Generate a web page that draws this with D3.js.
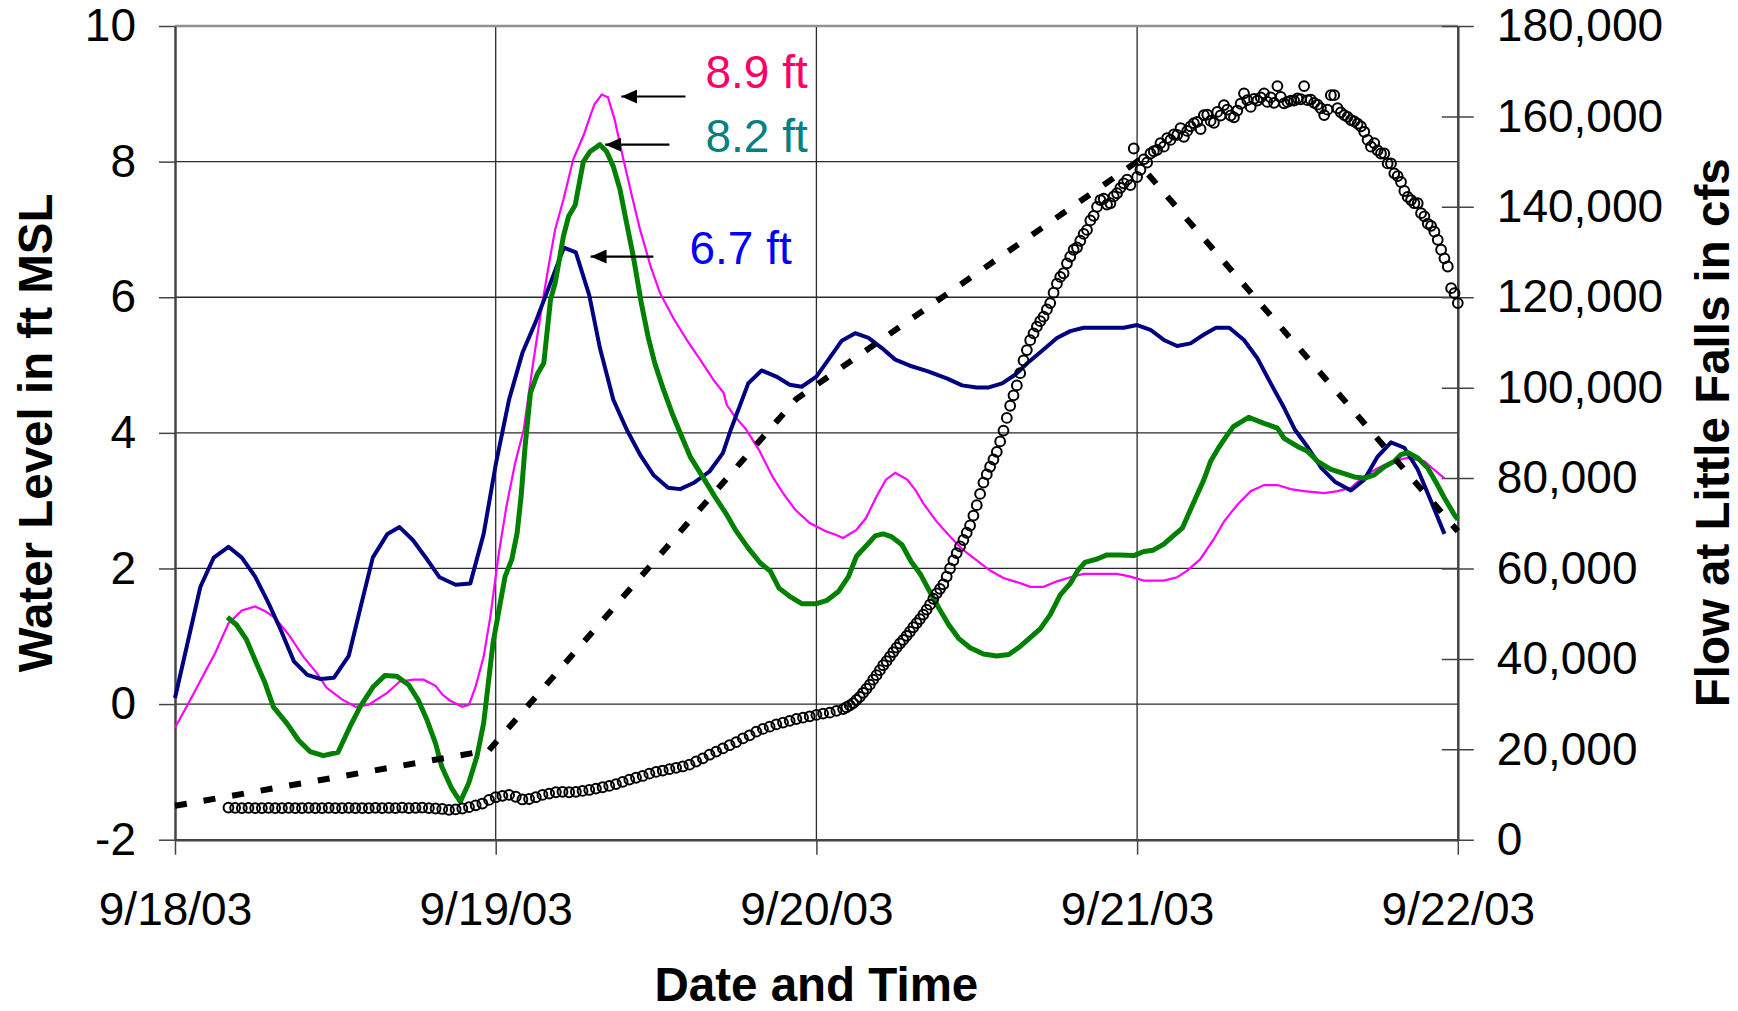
<!DOCTYPE html>
<html>
<head>
<meta charset="utf-8">
<script src="https://cdn.jsdelivr.net/npm/d3@7"></script>
<style>
  body { margin: 0; background: #fff; }
  svg { display: block; font-family: "Liberation Sans", Arial, sans-serif; }
</style>
</head>
<body>
<svg id="chart" width="1738" height="1011"></svg>
<script>
// all times are hours after 9/18/03 00:00

// water level (ft MSL), navy gauge
var navyLevel = [
  [0,0.09],[1.9,1.73],[2.9,2.16],[4,2.32],[5,2.16],[6,1.88],[7,1.49],[7.9,1.10],
  [8.9,0.63],[9.9,0.43],[10.9,0.37],[11.9,0.39],[13,0.71],[13.9,1.44],[14.8,2.16],
  [15.9,2.51],[16.8,2.61],[17.8,2.42],[18.8,2.15],[19.8,1.87],[21,1.76],[22.1,1.78],
  [23.1,2.51],[24,3.53],[25,4.49],[26,5.18],[27,5.64],[28,6.16],[29.1,6.73],[30,6.66],
  [31,6.03],[31.8,5.25],[32.8,4.49],[33.8,4.05],[34.8,3.68],[35.8,3.38],[36.9,3.19],
  [37.8,3.17],[38.8,3.26],[40,3.43],[41,3.70],[41.6,4.05],[42.9,4.73],[43.9,4.92],
  [45,4.83],[46,4.71],[46.9,4.68],[48,4.83],[48.9,5.08],[49.9,5.36],[50.9,5.47],
  [51.9,5.40],[52.9,5.25],[53.9,5.08],[55,4.99],[56.3,4.91],[57.8,4.80],[58.9,4.70],
  [60,4.67],[60.9,4.67],[61.9,4.73],[62.9,4.86],[63.8,5.03],[65,5.23],[66,5.40],
  [67,5.50],[68,5.55],[71,5.55],[72,5.59],[73,5.52],[74,5.37],[75,5.28],[76,5.32],
  [77,5.45],[77.9,5.55],[78.9,5.55],[80,5.37],[81,5.10],[82,4.73],[83,4.37],[83.8,4.05],
  [84.8,3.78],[85.8,3.48],[86.8,3.28],[88,3.15],[89,3.31],[90,3.65],[91,3.86],[92,3.78],
  [93,3.46],[94,2.99],[95,2.51]
];

// water level (ft MSL), magenta gauge
var magentaLevel = [
  [0,-0.35],[1,0.01],[2,0.38],[3,0.75],[4,1.19],[5,1.38],[6,1.44],[6.75,1.37],[7.5,1.27],
  [8.6,1.0],[9.6,0.70],[10.6,0.46],[11.35,0.24],[12.5,0.07],[13.5,-0.04],[14.5,-0.01],
  [15.85,0.16],[16.8,0.33],[17.8,0.36],[18.6,0.36],[19.5,0.27],[20,0.14],[20.6,0.05],
  [21.5,-0.04],[22,-0.01],[22.5,0.26],[23.1,0.70],[23.6,1.29],[24.2,2.18],[24.8,2.91],
  [25.45,3.55],[26.1,4.05],[26.8,5.03],[27.45,5.86],[27.95,6.45],[28.45,7.0],[29.07,7.44],
  [29.8,8.03],[30.6,8.40],[31.07,8.67],[31.4,8.85],[31.94,8.99],[32.4,8.95],[32.9,8.62],
  [33.56,8.03],[34.2,7.49],[34.8,7.0],[35.6,6.45],[36.3,6.06],[37.3,5.69],[38.3,5.37],
  [39.3,5.08],[40.3,4.78],[41.05,4.59],[41.3,4.41],[41.9,4.24],[42.7,4.06],[43.7,3.75],
  [44.7,3.36],[45.5,3.11],[46.4,2.87],[47.5,2.67],[48.7,2.55],[49.4,2.50],[50,2.45],
  [51,2.57],[51.7,2.74],[52.5,3.06],[53.2,3.31],[53.9,3.41],[54.8,3.31],[55.4,3.16],
  [56,2.96],[57,2.69],[58,2.47],[59,2.27],[60,2.12],[61,1.97],[62,1.86],[63.3,1.78],
  [64,1.73],[65,1.73],[66,1.81],[67,1.87],[68,1.92],[70.5,1.92],[71.5,1.88],[72.5,1.82],
  [74,1.82],[75,1.87],[75.7,1.96],[76.7,2.13],[77.7,2.42],[78.5,2.69],[79.5,2.94],
  [80.5,3.14],[81.5,3.23],[82.5,3.23],[83.5,3.17],[84.5,3.14],[86,3.11],[87,3.14],
  [88,3.19],[89,3.36],[90,3.48],[91,3.57],[92.2,3.63],[93.5,3.58],[94.2,3.46],[95,3.33]
];

// water level (ft MSL), green gauge
var greenLevel = [
  [3.92,1.28],[4.6,1.17],[5.35,0.95],[6.1,0.60],[6.74,0.31],[7.36,-0.04],[8.36,-0.28],
  [9.23,-0.53],[10.1,-0.70],[11.1,-0.76],[12.2,-0.71],[13.1,-0.33],[13.85,-0.04],
  [14.85,0.26],[15.7,0.42],[16.6,0.41],[17.5,0.28],[18.2,0.06],[18.85,-0.23],[19.5,-0.58],
  [19.96,-0.92],[20.7,-1.24],[21.35,-1.44],[21.97,-1.17],[22.6,-0.77],[23.1,-0.28],
  [23.45,0.31],[23.8,0.90],[24.2,1.34],[24.7,1.88],[25.2,2.13],[25.6,2.52],[25.9,3.06],
  [26.2,3.80],[26.6,4.59],[27.1,4.86],[27.6,5.03],[28.1,5.96],[28.45,6.21],[29.07,6.90],
  [29.45,7.19],[29.95,7.36],[30.3,7.73],[30.56,8.0],[31.07,8.15],[31.8,8.25],[32.3,8.15],
  [32.8,7.93],[33.3,7.59],[33.8,7.09],[34.3,6.60],[34.9,5.91],[35.4,5.42],[35.9,5.03],
  [36.55,4.64],[37.2,4.29],[37.7,4.05],[38.55,3.65],[39.4,3.38],[40.4,3.06],[41.3,2.79],
  [42.0,2.55],[42.9,2.30],[43.8,2.08],[44.55,1.96],[45.2,1.71],[46.0,1.59],[46.9,1.48],
  [48.0,1.48],[48.8,1.53],[49.65,1.66],[50.4,1.88],[51.0,2.18],[51.8,2.35],[52.4,2.48],
  [53.0,2.51],[53.6,2.47],[54.4,2.35],[55.1,2.10],[55.8,1.91],[56.4,1.69],[57.15,1.42],
  [57.9,1.17],[58.64,0.97],[59.5,0.83],[60.5,0.74],[61.5,0.71],[62.4,0.73],[63.25,0.85],
  [64.0,0.98],[64.75,1.11],[65.5,1.32],[66.25,1.61],[67.0,1.78],[67.6,1.98],[68.1,2.09],
  [69.0,2.14],[69.75,2.20],[70.7,2.20],[71.75,2.19],[72.5,2.25],[73.2,2.27],[74.0,2.36],
  [74.7,2.48],[75.4,2.60],[76.0,2.87],[76.5,3.09],[77.0,3.31],[77.5,3.58],[78.1,3.78],
  [78.75,3.97],[79.2,4.09],[80.35,4.23],[81.5,4.14],[82.5,4.07],[83.0,3.92],[84.0,3.80],
  [84.75,3.73],[85.5,3.58],[86.5,3.46],[87.5,3.40],[88.25,3.35],[89.0,3.33],[89.75,3.38],
  [90.5,3.50],[91.25,3.58],[91.75,3.68],[92.25,3.71],[93.0,3.63],[93.75,3.48],[94.4,3.26],
  [95.0,3.04],[95.75,2.79],[96,2.72]
];

// dashed line (ft MSL)
var dashedLevel = [[0,-1.5],[23.5,-0.68],[46.5,4.5],[72,8.0],[96,2.55]];

// flow at Little Falls (cfs), every 30 min from hour 4
var flowEarlyStart = 4, flowEarlyStep = 0.5;
var flowEarly = [
  7100,7050,7000,7050, 7000,7000,7050,7000, 7000,7050,7000,7000,
  7050,7000,7000,7050, 7000,7000,7050,7000, 7000,7000,7050,7000,
  7050,7000,7100,7000, 7050,7100,7000,6900, 6800,6600,6700,6900,
  7200,7600,8000,8800, 9400,9700,9900,9500, 8900,9000,9400,9900,
  10200,10500,10600,10500, 10600,10800,11000,11300, 11600,11900,12300,12800,
  13300,13700,14100,14600, 15000,15300,15600,15900, 16200,16600,17300,18000,
  18800,19500,20200,20900, 21600,22400,23100,23900, 24500,25000,25500,25900,
  26300,26700,27000,27300, 27600,27900,28100,28500
];
// flow at Little Falls (cfs), every 15 min from hour 50
var flowLateStart = 50, flowLateStep = 0.25;
var flowLate = [
  28900,29300,29700,30200,
  30900,31600,32500,33400,
  34300,35400,36400,37500,
  38600,39500,40500,41500,
  42500,43400,44200,45100,
  46000,47000,47900,48800,
  49800,50900,52000,53300,
  54500,55500,56500,58200,
  60000,61800,63400,64900,
  66300,67900,69500,71700,
  74000,76500,79000,80800,
  82500,84100,85800,88100,
  90500,93300,96000,98300,
  100500,103200,106000,108300,
  110500,112000,113500,114700,
  115700,117300,118700,121000,
  123000,124500,125300,127500,
  129000,130500,131000,132500,
  134000,134900,137000,138000,
  140000,141500,141800,140500,
  140800,142300,143000,144200,
  145200,146000,144800,152900,
  146600,148200,150500,149800,
  151800,152300,152600,154100,
  153300,155200,154800,156000,
  155900,157400,155500,156800,
  157800,158500,158800,157200,
  160300,160400,159000,158600,
  161000,160200,162500,161500,
  160200,159800,161300,162800,
  165100,163600,162100,163900,
  163500,164200,165100,163200,
  164200,163000,166700,164300,
  162900,163200,163500,163500,
  164000,163800,166700,163600,
  163700,163000,162600,161800,
  160300,161500,164700,164700,
  161800,160900,160300,159900,
  159200,158900,158400,157800,
  156600,154800,153300,154100,
  152500,151800,151800,149600,
  149600,147400,146800,145500,
  143500,142200,141500,140800,
  140800,138600,137900,136300,
  135800,134500,132700,130500,
  128600,126800,122000,120900,
  118700
];

var levelTicks = [-2, 0, 2, 4, 6, 8, 10];
var flowTicks = [0, 20000, 40000, 60000, 80000, 100000, 120000, 140000, 160000, 180000];
var dayTicks = [0, 24, 48, 72, 96];

var peakNotes = [
  { label: "8.9 ft", color: "#ff0066", textAt: [39.7, 9.09], arrow: [38.2, 33.4, 8.96] },
  { label: "8.2 ft", color: "#008080", textAt: [39.7, 8.14], arrow: [37.0, 32.2, 8.25] },
  { label: "6.7 ft", color: "#0000ff", textAt: [38.5, 6.49], arrow: [35.8, 31.1, 6.60] }
];

var t0 = new Date(2003, 8, 18);
function at(h) { return new Date(t0.getTime() + h * 3600000); }

var flow = [];
flowEarly.forEach(function (f, i) { flow.push([flowEarlyStart + i * flowEarlyStep, f]); });
flowLate.forEach(function (f, i) { flow.push([flowLateStart + i * flowLateStep, f]); });

var plotLeft = 175, plotRight = 1457.8, plotTop = 26, plotBottom = 839.7;

var svg = d3.select("#chart");

var x = d3.scaleTime().domain([at(0), at(96)]).range([plotLeft, plotRight]);
var yL = d3.scaleLinear().domain([-2, 10]).range([plotBottom, plotTop]);
var yR = d3.scaleLinear().domain([0, 180000]).range([plotBottom, plotTop]);

// gridlines
svg.append("g").selectAll("line")
  .data(levelTicks.filter(function (d) { return d > -2 && d < 10; }))
  .enter().append("line")
  .attr("x1", plotLeft).attr("x2", plotRight)
  .attr("y1", function (d) { return yL(d); })
  .attr("y2", function (d) { return yL(d); })
  .attr("stroke", "#2a2a2a").attr("stroke-width", 1.3);

svg.append("g").selectAll("line")
  .data(dayTicks.filter(function (d) { return d > 0 && d < 96; }))
  .enter().append("line")
  .attr("x1", function (d) { return x(at(d)); })
  .attr("x2", function (d) { return x(at(d)); })
  .attr("y1", plotTop).attr("y2", plotBottom)
  .attr("stroke", "#2a2a2a").attr("stroke-width", 1.3);

// top border of plot area
svg.append("line")
  .attr("x1", plotLeft).attr("x2", plotRight).attr("y1", plotTop).attr("y2", plotTop)
  .attr("stroke", "#909090").attr("stroke-width", 2.5);

// axes
var fontSize = 46;

var gL = svg.append("g").attr("transform", "translate(" + plotLeft + ",0)")
  .call(d3.axisLeft(yL).tickValues(levelTicks).tickSizeInner(16).tickSizeOuter(0)
    .tickPadding(23).tickFormat(function (d) { return String(d); }));

var gR = svg.append("g").attr("transform", "translate(" + plotRight + ",0)")
  .call(d3.axisRight(yR).tickValues(flowTicks).tickSizeInner(16).tickSizeOuter(0)
    .tickPadding(23).tickFormat(d3.format(",")));
gR.selectAll(".tick line").attr("x1", -16);

var gX = svg.append("g").attr("transform", "translate(0," + plotBottom + ")")
  .call(d3.axisBottom(x).tickValues(dayTicks.map(at)).tickSizeInner(15).tickSizeOuter(0)
    .tickPadding(38).tickFormat(d3.timeFormat("%-m/%-d/%y")));

[gL, gR, gX].forEach(function (g) {
  g.select(".domain").attr("stroke", "#444").attr("stroke-width", 2.5);
  g.selectAll(".tick line").attr("stroke", "#444").attr("stroke-width", 1.5);
  g.selectAll(".tick text")
    .attr("fill", "#000")
    .style("font-size", fontSize + "px")
    .style("font-family", "'Liberation Sans', Arial, sans-serif");
});

// water level lines
var lineL = d3.line()
  .x(function (d) { return x(at(d[0])); })
  .y(function (d) { return yL(d[1]); });

svg.append("path").datum(magentaLevel)
  .attr("d", lineL).attr("fill", "none")
  .attr("stroke", "#ff00ff").attr("stroke-width", 2.2);

svg.append("path").datum(navyLevel)
  .attr("d", lineL).attr("fill", "none")
  .attr("stroke", "#000080").attr("stroke-width", 4)
  .attr("stroke-linejoin", "round");

svg.append("path").datum(greenLevel)
  .attr("d", lineL).attr("fill", "none")
  .attr("stroke", "#008000").attr("stroke-width", 5)
  .attr("stroke-linejoin", "round");

svg.append("path").datum(dashedLevel)
  .attr("d", lineL).attr("fill", "none")
  .attr("stroke", "#000").attr("stroke-width", 6)
  .attr("stroke-dasharray", "12,17");

// flow circles on right axis
svg.append("g").selectAll("circle")
  .data(flow)
  .enter().append("circle")
  .attr("cx", function (d) { return x(at(d[0])); })
  .attr("cy", function (d) { return yR(d[1]); })
  .attr("r", 4.9)
  .attr("fill", "none")
  .attr("stroke", "#000")
  .attr("stroke-width", 2);

// peak annotations
svg.append("defs").append("marker")
  .attr("id", "head")
  .attr("viewBox", "0 0 16 14")
  .attr("refX", 16).attr("refY", 7)
  .attr("markerWidth", 16).attr("markerHeight", 14)
  .attr("markerUnits", "userSpaceOnUse")
  .attr("orient", "auto")
  .append("path").attr("d", "M0,0 L16,7 L0,14 Z").attr("fill", "#000");

peakNotes.forEach(function (n) {
  svg.append("line")
    .attr("x1", x(at(n.arrow[0]))).attr("x2", x(at(n.arrow[1])))
    .attr("y1", yL(n.arrow[2])).attr("y2", yL(n.arrow[2]))
    .attr("stroke", "#000").attr("stroke-width", 2.2)
    .attr("marker-end", "url(#head)");
  svg.append("text")
    .attr("x", x(at(n.textAt[0]))).attr("y", yL(n.textAt[1]))
    .attr("fill", n.color)
    .style("font-size", "46px")
    .text(n.label);
});

// axis titles
svg.append("text")
  .attr("x", (plotLeft + plotRight) / 2).attr("y", 1001)
  .attr("text-anchor", "middle")
  .style("font-size", "47.5px").style("font-weight", "bold")
  .text("Date and Time");

svg.append("text")
  .attr("transform", "translate(52," + (plotTop + plotBottom) / 2 + ") rotate(-90)")
  .attr("text-anchor", "middle")
  .style("font-size", "47.5px").style("font-weight", "bold")
  .text("Water Level in ft MSL");

svg.append("text")
  .attr("transform", "translate(1729," + (plotTop + plotBottom) / 2 + ") rotate(-90)")
  .attr("text-anchor", "middle")
  .style("font-size", "47.5px").style("font-weight", "bold")
  .text("Flow at Little Falls in cfs");
</script>
</body>
</html>
